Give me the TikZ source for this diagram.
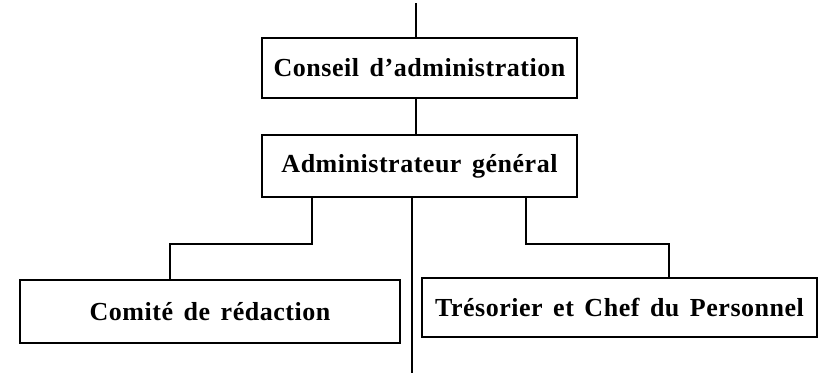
\documentclass[tikz,border=0pt]{standalone}
\usepackage{fontspec}
\setmainfont{Liberation Serif}
\newfontfamily\boxfont[LetterSpace=2,WordSpace=1.5]{Liberation Serif Bold}
\begin{document}
\begin{tikzpicture}[x=1pt,y=-1pt,
  orgbox/.style={draw,line width=1.5pt,inner sep=0pt,font=\fontsize{26}{30}\boxfont},
  conn/.style={line width=1.8pt}]
\useasboundingbox (0,0) rectangle (821,376);
\node[orgbox,minimum width=315pt,minimum height=60pt] (b1) at (419.5,68) {Conseil d’administration};
\node[orgbox,minimum width=315pt,minimum height=62pt] (b2) at (419.5,166) {Administrateur général};
\node[orgbox,minimum width=380pt,minimum height=63pt] (b3) at (210,311.5) {Comité de rédaction};
\node[orgbox,minimum width=395pt,minimum height=59pt] (b4) at (619.5,307.5) {Trésorier et Chef du Personnel};
\coordinate (top) at (416,3);
\coordinate (lj) at (312,244);
\coordinate (lk) at (170,244);
\coordinate (rj) at (526,244);
\coordinate (rk) at (669,244);
\coordinate (cb) at (412,373);
\draw[conn] (top) -- (top |- b1.north);
\draw[conn] (top |- b1.south) -- (top |- b2.north);
\draw[conn] (lj |- b2.south) -- (lj) -- (lk) -- (lk |- b3.north);
\draw[conn] (rj |- b2.south) -- (rj) -- (rk) -- (rk |- b4.north);
\draw[conn] (cb |- b2.south) -- (cb);
\end{tikzpicture}
\end{document}
